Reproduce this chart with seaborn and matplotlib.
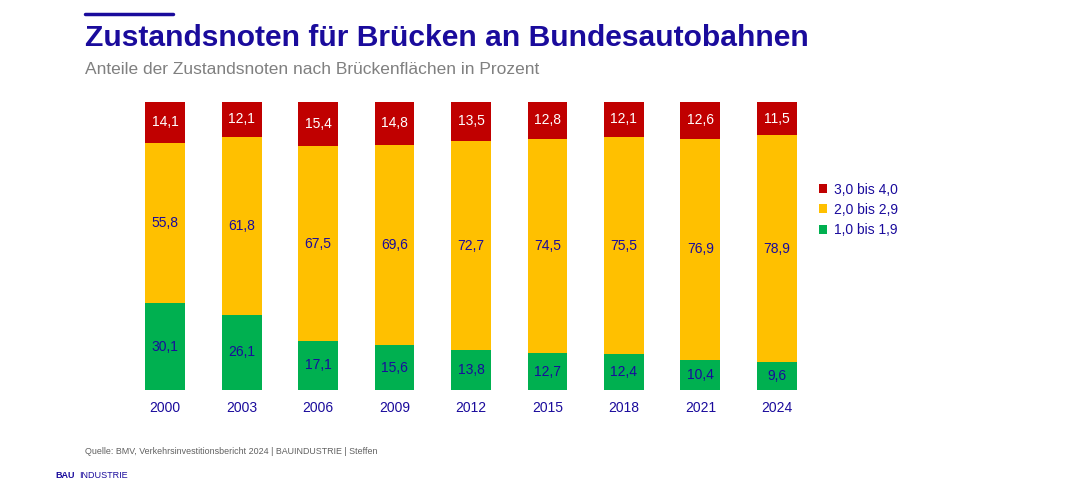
import matplotlib.pyplot as plt
import seaborn as sns
import pandas as pd

years = ["2000", "2003", "2006", "2009", "2012", "2015", "2018", "2021", "2024"]
gruen = [30.1, 26.1, 17.1, 15.6, 13.8, 12.7, 12.4, 10.4, 9.6]
gelb = [55.8, 61.8, 67.5, 69.6, 72.7, 74.5, 75.5, 76.9, 78.9]
rot = [14.1, 12.1, 15.4, 14.8, 13.5, 12.8, 12.1, 12.6, 11.5]
labels = ["1,0 bis 1,9", "2,0 bis 2,9", "3,0 bis 4,0"]
colors = ["#00B050", "#FFC000", "#C00000"]
blue = "#1A0B9C"

sns.set_style("white")
plt.rcParams["font.family"] = ["Liberation Sans", "DejaVu Sans"]

fig = plt.figure(figsize=(10.75, 4.97), dpi=100)
ax = fig.add_axes([127 / 1075, 1 - 390 / 497, 688 / 1075, 288 / 497])

df = pd.DataFrame({"Jahr": years, "g": gruen, "y": gelb, "r": rot})
bottom = [0] * len(years)
for col, lab, c in zip(["g", "y", "r"], labels, colors):
    sns.barplot(data=df, x="Jahr", y=col, bottom=bottom, color=c, width=0.52,
                ax=ax, label=lab, saturation=1, linewidth=0)
    for i, v in enumerate(df[col]):
        tc = "white" if col == "r" else blue
        ax.text(i, bottom[i] + v / 2, f"{v:.1f}".replace(".", ","), ha="center",
                va="center", fontsize=10, color=tc)
    bottom = [b + v for b, v in zip(bottom, df[col])]

ax.set_xlim(-0.5, 8.5)
ax.set_ylim(0, 100)
ax.set_xlabel("")
ax.set_ylabel("")
ax.set_yticks([])
ax.tick_params(axis="x", length=0, labelsize=10, labelcolor=blue, pad=8)
sns.despine(ax=ax, left=True, bottom=True)

h, l = ax.get_legend_handles_labels()
ax.legend(h[::-1], l[::-1], loc="upper left", bbox_to_anchor=(806 / 1075, 1 - 170 / 497),
          bbox_transform=fig.transFigure, frameon=False, fontsize=10, handlelength=0.6,
          handleheight=0.6, handletextpad=0.5, labelspacing=0.45, labelcolor=blue)

fig.add_artist(plt.Line2D([85 / 1075, 173 / 1075], [1 - 14 / 497] * 2, color=blue, lw=2.5))
fig.text(85 / 1075, 1 - 38 / 497, "Zustandsnoten für Brücken an Bundesautobahnen",
         fontsize=21.6, fontweight="bold", color=blue, va="center")
fig.text(85 / 1075, 1 - 70 / 497, "Anteile der Zustandsnoten nach Brückenflächen in Prozent",
         fontsize=12.5, color="#808080", va="center")
fig.text(85 / 1075, 1 - 451 / 497, "Quelle: BMV, Verkehrsinvestitionsbericht 2024 | BAUINDUSTRIE | Steffen",
         fontsize=6.4, color="#606060", va="center")
fig.text(55 / 1075, 1 - 476 / 497, "BAU", fontsize=6.5, fontweight="bold", color=blue, va="center")
fig.text(79 / 1075, 1 - 476 / 497, "INDUSTRIE", fontsize=6.5, color=blue, va="center")

fig.savefig("out.png", dpi=100)
